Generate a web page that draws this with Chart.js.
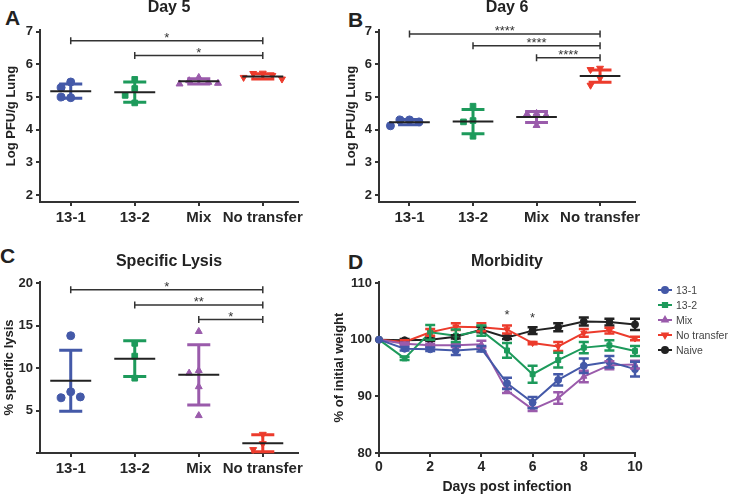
<!DOCTYPE html>
<html>
<head>
<meta charset="utf-8">
<script src="https://cdn.jsdelivr.net/npm/chart.js@4.4.1/dist/chart.umd.min.js"></script>
<style>
  body { margin: 0; background: #fff; width: 735px; height: 497px; position: relative; overflow: hidden; }
  .panel { position: absolute; }
  .letter { position: absolute; font: bold 21px "Liberation Sans", Arial, sans-serif; line-height: 21px; color: #222; }
</style>
</head>
<body>
<div class="letter" style="left:5px;top:7px">A</div>
<div class="letter" style="left:348px;top:9px">B</div>
<div class="letter" style="left:0px;top:245px">C</div>
<div class="letter" style="left:348px;top:251px">D</div>
<div class="panel" style="left:0;top:0;width:310px;height:240px"><canvas id="chartA"></canvas></div>
<div class="panel" style="left:339px;top:0;width:310px;height:240px"><canvas id="chartB"></canvas></div>
<div class="panel" style="left:0;top:240px;width:310px;height:257px"><canvas id="chartC"></canvas></div>
<div class="panel" style="left:329px;top:240px;width:406px;height:257px"><canvas id="chartD"></canvas></div>
<script>
// groups shared by the three dot plots
var groups = ['13-1', '13-2', 'Mix', 'No transfer'];

// A: Day 5 lung titres (log PFU/g)
var day5Points = [[5.46, 5.29, 4.98, 5.00], [5.54, 5.26, 5.05, 4.82], [5.60, 5.50, 5.45, 5.40, 5.42], [5.73, 5.72, 5.66, 5.60, 5.55]];
var day5Mean = [5.18, 5.15, 5.48, 5.63];
var day5Sd = [0.22, 0.31, 0.08, 0.08];
var day5SigFrom = [0, 1];
var day5SigLevel = [6.72, 6.27];
var day5SigText = ['*', '*'];

// B: Day 6 lung titres
var day6Points = [[4.30, 4.30, 4.24, 4.12], [4.72, 4.28, 4.24, 3.80], [4.50, 4.48, 4.44, 4.13], [5.88, 5.84, 5.58, 5.36]];
var day6Mean = [4.23, 4.25, 4.39, 5.64];
var day6Sd = [0.08, 0.37, 0.17, 0.19];
var day6SigFrom = [0, 1, 2];
var day6SigLevel = [6.93, 6.57, 6.20];
var day6SigText = ['****', '****', '****'];

// C: specific lysis (%)
var lysisPoints = [[13.8, 7.2, 6.5, 6.6], [12.9, 11.4, 8.8], [14.3, 9.7, 9.4, 7.8, 4.4], [2.2, 1.1, 0.4]];
var lysisMean = [8.5, 11.1, 9.2, 1.15];
var lysisSd = [3.6, 2.1, 3.55, 1.0];
var lysisSigFrom = [0, 1, 2];
var lysisSigLevel = [19.2, 17.4, 15.7];
var lysisSigText = ['*', '**', '*'];

// D: morbidity, % of initial weight (mean and SEM)
var days = [0, 1, 2, 3, 4, 5, 6, 7, 8, 9, 10];
var morbNames = ['13-1', '13-2', 'Mix', 'No transfer', 'Naive'];
var morb131 = [100, 98.4, 98.3, 98.1, 98.4, 92.3, 88.9, 92.9, 95.4, 96.1, 94.8];
var morb132 = [100, 96.7, 101.3, 100.7, 101.6, 98.1, 93.9, 96.4, 98.6, 99.0, 98.0];
var morbMix = [100, 99.3, 99.0, 99.0, 99.2, 91.0, 87.7, 89.7, 93.5, 95.5, 95.6];
var morbNoTransfer = [100, 99.6, 101.3, 102.3, 102.2, 101.8, 99.4, 98.8, 101.2, 101.6, 100.2];
var morbNaive = [100, 99.9, 100.0, 100.5, 101.8, 100.4, 101.6, 102.2, 103.2, 103.1, 102.7];
var sem131 = [0, 0.3, 0.3, 0.8, 0.5, 1.0, 1.0, 1.0, 1.3, 1.0, 1.3];
var sem132 = [0, 0.3, 1.3, 1.1, 0.9, 1.3, 1.5, 1.3, 1.0, 0.9, 0.9];
var semMix = [0, 0.2, 0.3, 0.3, 0.6, 0.4, 0.3, 1.0, 1.0, 0.7, 0.7];
var semNoTransfer = [0, 0.3, 0.6, 0.6, 0.7, 0.7, 0.2, 0.8, 0.7, 0.5, 0.3];
var semNaive = [0, 0.2, 0.2, 0.3, 0.5, 0.3, 0.6, 0.7, 0.7, 0.6, 1.0];
var morbStarDays = [5, 6];
var morbStarLevel = [104.8, 104.4];

var colors = ['#4459a8', '#1d9a5b', '#9a5bab', '#ec3b2c', '#222222'];
var shapes = ['circle', 'rect', 'triangle', 'triangle', 'circle'];
var rotations = [0, 0, 0, 180, 0];
var axisColor = '#333';
var fontFamily = '"Liberation Sans", Arial, sans-serif';

Chart.defaults.font.family = fontFamily;
Chart.defaults.color = '#262626';

// spread overlapping dots sideways a little, like a scatter dot plot
function spreadDots(vals, center, range) {
  var offs = [0, -0.15, 0.15, -0.3, 0.3];
  var placed = [];
  return vals.map(function (v) {
    for (var k = 0; k < offs.length; k++) {
      var free = placed.every(function (p) {
        return Math.abs(p.v - v) > range || Math.abs(p.o - offs[k]) > 0.1;
      });
      if (free) {
        placed.push({ v: v, o: offs[k] });
        return { x: center + offs[k], y: v };
      }
    }
    return { x: center, y: v };
  });
}

// error bars, mean line and significance brackets for the dot plots
var dotExtras = {
  id: 'dotExtras',
  afterDatasetsDraw: function (chart, args, opts) {
    if (!opts.means) return;
    var ctx = chart.ctx, xs = chart.scales.x, ys = chart.scales.y;
    ctx.save();
    opts.means.forEach(function (m, i) {
      var cx = xs.getPixelForValue(i);
      var top = ys.getPixelForValue(m + opts.sds[i]);
      var bot = ys.getPixelForValue(m - opts.sds[i]);
      var cap = xs.getPixelForValue(i + 0.18) - cx;
      var half = xs.getPixelForValue(i + 0.32) - cx;
      ctx.strokeStyle = colors[i];
      ctx.lineWidth = 3;
      ctx.beginPath();
      ctx.moveTo(cx, top); ctx.lineTo(cx, bot);
      ctx.moveTo(cx - cap, top); ctx.lineTo(cx + cap, top);
      ctx.moveTo(cx - cap, bot); ctx.lineTo(cx + cap, bot);
      ctx.stroke();
      var my = ys.getPixelForValue(m);
      ctx.strokeStyle = '#222';
      ctx.lineWidth = 2;
      ctx.beginPath();
      ctx.moveTo(cx - half, my); ctx.lineTo(cx + half, my);
      ctx.stroke();
    });
    ctx.font = '13px ' + fontFamily;
    ctx.textAlign = 'center';
    ctx.textBaseline = 'alphabetic';
    opts.sigFrom.forEach(function (g, k) {
      var x0 = xs.getPixelForValue(g), x1 = xs.getPixelForValue(3);
      var yy = ys.getPixelForValue(opts.sigLevel[k]);
      ctx.strokeStyle = axisColor;
      ctx.lineWidth = 1.5;
      ctx.beginPath();
      ctx.moveTo(x0, yy); ctx.lineTo(x1, yy);
      ctx.moveTo(x0, yy - 3.5); ctx.lineTo(x0, yy + 3.5);
      ctx.moveTo(x1, yy - 3.5); ctx.lineTo(x1, yy + 3.5);
      ctx.stroke();
      ctx.fillStyle = axisColor;
      ctx.fillText(opts.sigText[k], (x0 + x1) / 2, yy + 1);
    });
    ctx.restore();
  }
};

function dotChart(id, cfg) {
  var datasets = groups.map(function (name, i) {
    return {
      label: name,
      data: spreadDots(cfg.points[i], i, cfg.range),
      pointStyle: shapes[i],
      pointRotation: rotations[i],
      pointRadius: 4,
      pointBackgroundColor: colors[i],
      pointBorderColor: colors[i],
      showLine: false,
      clip: false
    };
  });
  return new Chart(document.getElementById(id), {
    type: 'scatter',
    data: { datasets: datasets },
    plugins: [dotExtras],
    options: {
      responsive: true,
      maintainAspectRatio: false,
      animation: false,
      layout: { padding: { right: cfg.padRight } },
      plugins: {
        legend: { display: false },
        tooltip: { enabled: false },
        title: {
          display: true, text: cfg.title, fullSize: false, color: '#222',
          font: { size: 16, weight: 'bold', lineHeight: 1 },
          padding: cfg.titlePad
        },
        dotExtras: { means: cfg.means, sds: cfg.sds, sigFrom: cfg.sigFrom, sigLevel: cfg.sigLevel, sigText: cfg.sigText }
      },
      scales: {
        x: {
          type: 'linear', min: -0.48, max: 3.55,
          afterBuildTicks: function (s) { s.ticks = [0, 1, 2, 3].map(function (v) { return { value: v }; }); },
          afterFit: function (s) { s.height = cfg.xHeight; },
          ticks: {
            callback: function (v) { return groups[v]; },
            font: { size: 15, weight: 'bold' }, maxRotation: 0, autoSkip: false, padding: 3
          },
          grid: { drawOnChartArea: false, tickLength: 4, color: axisColor, lineWidth: 2 },
          border: { color: axisColor, width: 2 }
        },
        y: {
          min: cfg.yMin, max: cfg.yMax,
          afterFit: function (s) { s.width = 40; },
          ticks: {
            stepSize: cfg.yStep, includeBounds: false, padding: 3,
            font: { size: 13, weight: 'bold' },
            callback: function (v) { return v === 0 ? '' : v; }
          },
          grid: { drawOnChartArea: false, tickLength: 4, color: axisColor, lineWidth: 2 },
          border: { color: axisColor, width: 2 },
          title: {
            display: true, text: cfg.yTitle, color: '#222',
            font: { size: 13, weight: 'bold' }, padding: { top: cfg.yTitlePad, bottom: 0 }
          }
        }
      }
    }
  });
}

dotChart('chartA', {
  title: 'Day 5', points: day5Points, means: day5Mean, sds: day5Sd, range: 0.25,
  sigFrom: day5SigFrom, sigLevel: day5SigLevel, sigText: day5SigText,
  yMin: 1.79, yMax: 7.05, yStep: 1, yTitle: 'Log PFU/g Lung', yTitlePad: 4,
  padRight: 12, titlePad: { top: 0, bottom: 14 }, xHeight: 38
});
dotChart('chartB', {
  title: 'Day 6', points: day6Points, means: day6Mean, sds: day6Sd, range: 0.25,
  sigFrom: day6SigFrom, sigLevel: day6SigLevel, sigText: day6SigText,
  yMin: 1.79, yMax: 7.05, yStep: 1, yTitle: 'Log PFU/g Lung', yTitlePad: 5,
  padRight: 14, titlePad: { top: 0, bottom: 14 }, xHeight: 38
});
dotChart('chartC', {
  title: 'Specific Lysis', points: lysisPoints, means: lysisMean, sds: lysisSd, range: 0.95,
  sigFrom: lysisSigFrom, sigLevel: lysisSigLevel, sigText: lysisSigText,
  yMin: 0, yMax: 20.12, yStep: 5, yTitle: '% specific lysis', yTitlePad: 2,
  padRight: 12, titlePad: { top: 14, bottom: 12 }, xHeight: 44
});

// D: weight curves
var morbValues = [morb131, morb132, morbMix, morbNoTransfer, morbNaive];
var morbSem = [sem131, sem132, semMix, semNoTransfer, semNaive];

var morbExtras = {
  id: 'morbExtras',
  afterDatasetsDraw: function (chart) {
    var ctx = chart.ctx, xs = chart.scales.x, ys = chart.scales.y;
    ctx.save();
    ctx.lineWidth = 2.5;
    for (var s = morbValues.length - 1; s >= 0; s--) {
      ctx.strokeStyle = colors[s];
      ctx.beginPath();
      days.forEach(function (d, k) {
        var e = morbSem[s][k];
        if (!e) return;
        var cx = xs.getPixelForValue(d);
        var t = ys.getPixelForValue(morbValues[s][k] + e);
        var b = ys.getPixelForValue(morbValues[s][k] - e);
        ctx.moveTo(cx, t); ctx.lineTo(cx, b);
        ctx.moveTo(cx - 5, t); ctx.lineTo(cx + 5, t);
        ctx.moveTo(cx - 5, b); ctx.lineTo(cx + 5, b);
      });
      ctx.stroke();
    }
    ctx.fillStyle = axisColor;
    ctx.font = '13px ' + fontFamily;
    ctx.textAlign = 'center';
    ctx.textBaseline = 'alphabetic';
    morbStarDays.forEach(function (d, k) {
      ctx.fillText('*', xs.getPixelForValue(d), ys.getPixelForValue(morbStarLevel[k]) + 7);
    });
    // legend: line sample with marker, then label
    var lx = chart.chartArea.right + 23;
    ctx.font = '10.5px ' + fontFamily;
    ctx.textAlign = 'left';
    ctx.textBaseline = 'middle';
    morbNames.forEach(function (name, i) {
      var ly = 50 + i * 15;
      ctx.strokeStyle = colors[i];
      ctx.lineWidth = 2;
      ctx.beginPath();
      ctx.moveTo(lx, ly); ctx.lineTo(lx + 14, ly);
      ctx.stroke();
      ctx.fillStyle = colors[i];
      Chart.helpers.drawPoint(ctx, { pointStyle: shapes[i], rotation: rotations[i], radius: 3, borderWidth: 1 }, lx + 7, ly);
      ctx.fillStyle = '#444';
      ctx.fillText(name, lx + 18, ly + 1);
    });
    ctx.restore();
  }
};

new Chart(document.getElementById('chartD'), {
  type: 'line',
  data: {
    datasets: morbNames.map(function (name, i) {
      return {
        label: name,
        data: days.map(function (d, k) { return { x: d, y: morbValues[i][k] }; }),
        borderColor: colors[i],
        backgroundColor: colors[i],
        borderWidth: 2,
        pointStyle: shapes[i],
        pointRotation: rotations[i],
        pointRadius: 3.5,
        pointBorderWidth: 1,
        tension: 0,
        clip: false
      };
    })
  },
  plugins: [morbExtras],
  options: {
    responsive: true,
    maintainAspectRatio: false,
    animation: false,
    layout: { padding: { right: 100 } },
    plugins: {
      legend: { display: false },
      tooltip: { enabled: false },
      title: {
        display: true, text: 'Morbidity', fullSize: false, color: '#222',
        font: { size: 16, weight: 'bold', lineHeight: 1 },
        padding: { top: 14, bottom: 12 }
      }
    },
    scales: {
      x: {
        type: 'linear', min: 0, max: 10,
        afterFit: function (s) { s.height = 44; },
        ticks: { stepSize: 2, font: { size: 14, weight: 'bold' }, maxRotation: 0, padding: 2 },
        grid: { drawOnChartArea: false, tickLength: 4, color: axisColor, lineWidth: 2 },
        border: { color: axisColor, width: 2 },
        title: {
          display: true, text: 'Days post infection', color: '#222',
          font: { size: 14, weight: 'bold' }, padding: { top: 0, bottom: 1 }
        }
      },
      y: {
        min: 80, max: 110.18,
        afterFit: function (s) { s.width = 50; },
        ticks: { stepSize: 10, includeBounds: false, padding: 3, font: { size: 13, weight: 'bold' } },
        grid: { drawOnChartArea: false, tickLength: 4, color: axisColor, lineWidth: 2 },
        border: { color: axisColor, width: 2 },
        title: {
          display: true, text: '% of initial weight', color: '#222',
          font: { size: 13, weight: 'bold' }, padding: { top: 3, bottom: 0 }
        }
      }
    }
  }
});
</script>
</body>
</html>
